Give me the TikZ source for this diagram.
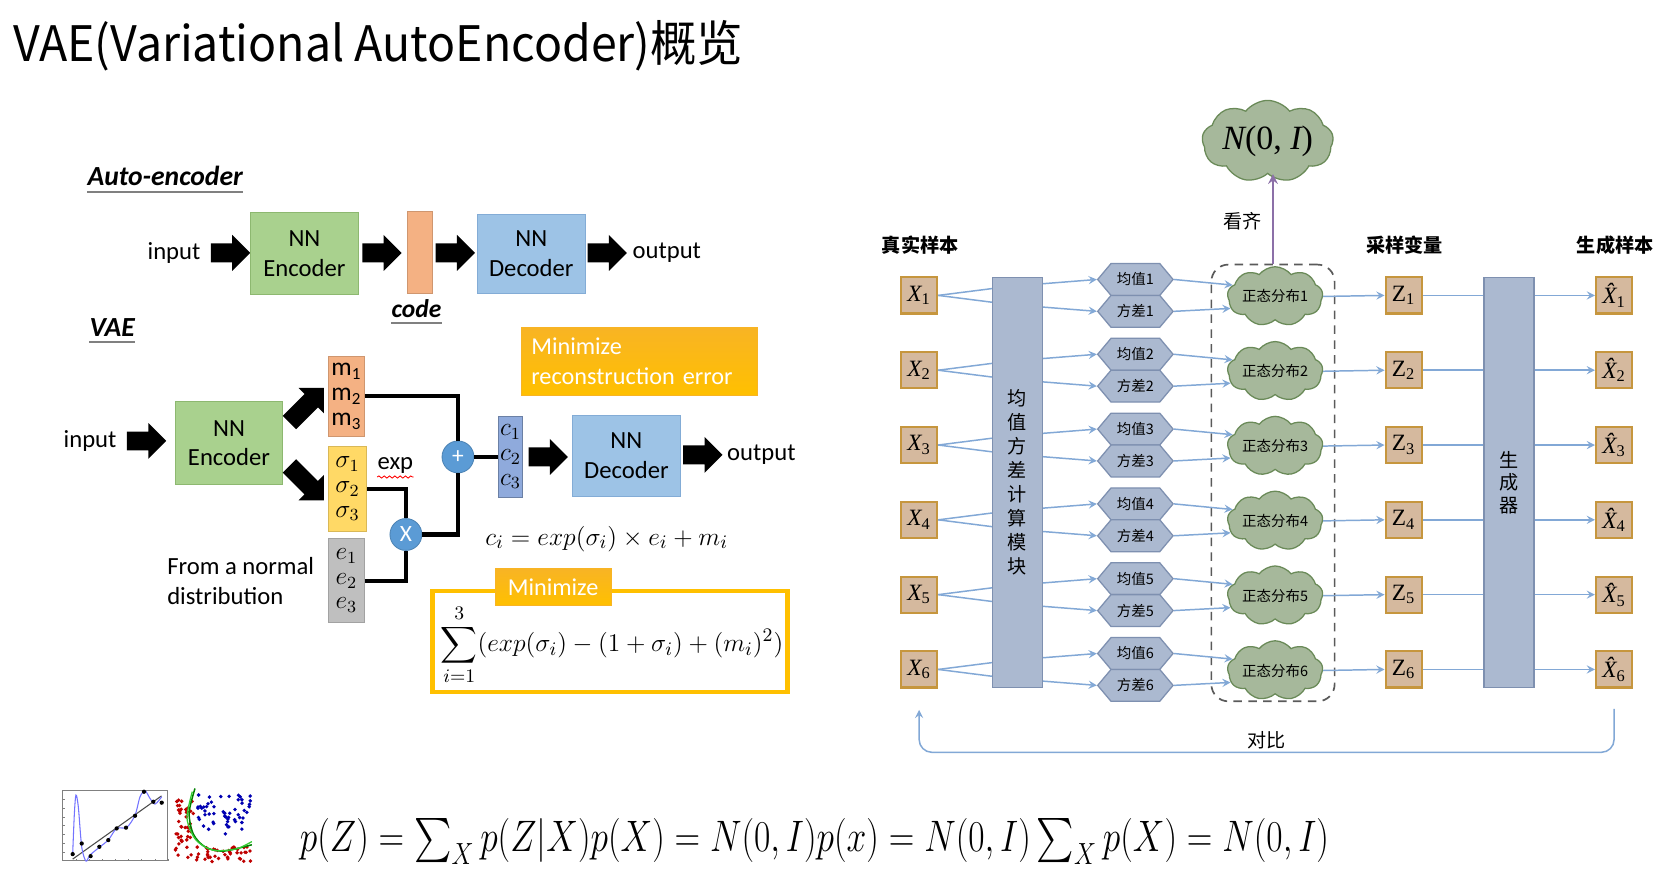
\documentclass[tikz,border=0pt]{standalone}
\usepackage[no-math]{fontspec}
\usepackage{amsmath}
\setmainfont{Carlito}
\newfontfamily\cjk{Noto Sans CJK SC}
\newfontfamily\tms{Liberation Serif}
\usetikzlibrary{shapes.arrows, shapes.symbols, arrows, decorations.pathmorphing}
\definecolor{encgreen}{HTML}{A9D18E}
\definecolor{encedge}{HTML}{8DB870}
\definecolor{decblue}{HTML}{9DC3E6}
\definecolor{decedge}{HTML}{83ACD6}
\definecolor{codeorange}{HTML}{F4B183}
\definecolor{sigyellow}{HTML}{FFD966}
\definecolor{egray}{HTML}{BFBFBF}
\definecolor{cblue}{HTML}{8FAADC}
\definecolor{opblue}{HTML}{5B9BD5}
\definecolor{gold}{HTML}{FFC000}
\definecolor{goldtop}{HTML}{F8B424}
\definecolor{tanfill}{HTML}{D5B99E}
\definecolor{tanedge}{HTML}{C6963E}
\definecolor{barfill}{HTML}{ABB9D0}
\definecolor{baredge}{HTML}{7E90B0}
\definecolor{cloudfill}{HTML}{A6B89B}
\definecolor{cloudedge}{HTML}{6A8A58}
\definecolor{lnblue}{HTML}{82A8D6}
\definecolor{purp}{HTML}{8C70A8}
\definecolor{dashgray}{HTML}{5A5A5A}
\tikzstyle{nnbox} = [rectangle, inner sep=0, align=center, minimum width=50.5pt, minimum height=38.5pt, font=\fontsize{11.6}{14}\selectfont]
\tikzstyle{bigarrow} = [single arrow, fill=black, inner xsep=0pt, inner ysep=4.25pt, minimum width=16.5pt, minimum height=18.5pt, single arrow head extend=4pt, single arrow head indent=0pt]
\tikzstyle{vec} = [rectangle, inner sep=0, align=center, minimum width=17pt, minimum height=37.5pt, font=\fontsize{12}{11.6}\selectfont]
\tikzstyle{op} = [circle, fill=opblue, draw=opblue!85!black, minimum size=15pt, inner sep=0, text=white, font=\fontsize{11}{12}\selectfont]
\tikzstyle{wire} = [line width=2pt]
\tikzstyle{txt} = [inner sep=0, font=\fontsize{11.6}{14}\selectfont]
\tikzstyle{head} = [inner sep=0, font=\bfseries\itshape\fontsize{13}{15}\selectfont]
\tikzstyle{goldbox} = [rectangle, top color=goldtop, bottom color=gold, draw=goldtop, text=white, inner sep=0, font=\fontsize{11.4}{14.5}\selectfont]
\tikzstyle{xbox} = [rectangle, fill=tanfill, draw=tanedge, line width=1pt, minimum size=17pt, inner sep=0, font=\tms\fontsize{11}{12}\selectfont]
\tikzstyle{bar} = [rectangle, fill=barfill, draw=baredge, line width=0.6pt, minimum width=23.5pt, minimum height=193pt, inner sep=0, align=center, font=\cjk\fontsize{9}{11.3}\selectfont]
\tikzstyle{hexa} = [signal, signal to=west and east, signal pointer angle=100, fill=barfill, draw=baredge, line width=0.6pt, minimum width=35.5pt, minimum height=15pt, inner sep=0.5pt, font=\cjk\fontsize{6.8}{8}\selectfont]
\tikzstyle{cloudn} = [cloud, cloud puffs=9, cloud puff arc=105, aspect=2, fill=cloudfill, draw=cloudedge, line width=0.6pt, minimum width=39pt, minimum height=17pt, inner sep=0, font=\cjk\fontsize{6.8}{8}\selectfont]
\tikzstyle{lbl} = [inner sep=0, font=\cjk\bfseries\fontsize{9}{11}\selectfont]
\tikzstyle{ln} = [line width=0.7pt, draw=lnblue]
\tikzstyle{arrow} = [ln, ->, >=stealth]
\begin{document}
\begin{tikzpicture}[x=0.5pt,y=-0.5pt]
\useasboundingbox[fill=white] (0,0) rectangle (1566,826);
\node[anchor=base west, inner sep=0, font=\cjk\fontsize{23}{28}\selectfont] (title) at (12,58) {\scalebox{0.95}[1]{VAE(Variational AutoEncoder)概览}};

% auto-encoder
\node[head, anchor=west] (ae) at (82,166) {Auto-encoder};
\draw[gray, line width=1.2pt] ([yshift=-2.5pt]ae.south west) -- ([yshift=-2.5pt]ae.south east);
\node[txt, anchor=east] (in1) at (189,238) {input};
\node[bigarrow] (a1) at (212.5,238) {};
\node[nnbox, fill=encgreen, draw=encedge] (enc1) at (286.5,238.5) {NN\\Encoder};
\node[bigarrow] (a2) at (355,238) {};
\node[rectangle, fill=codeorange, draw=codeorange!85!black, inner sep=0, minimum width=12pt, minimum height=38.5pt] (code) at (395,237.5) {};
\node[bigarrow] (a3) at (424,238) {};
\node[nnbox, fill=decblue, draw=decedge, minimum height=37pt] (dec1) at (500,239) {NN\\Decoder};
\node[bigarrow] (a4) at (567,238) {};
\node[txt, anchor=west] (out1) at (595,238) {output};
\node[head, font=\bfseries\itshape\fontsize{12}{14}\selectfont] (codel) at (392,290) {code};
\draw[gray, line width=1.2pt] ([yshift=-2.5pt]codel.south west) -- ([yshift=-2.5pt]codel.south east);

% vae
\node[head, anchor=west] (vae) at (84,308) {VAE};
\draw[gray, line width=1.2pt] ([yshift=-2.5pt]vae.south west) -- ([yshift=-2.5pt]vae.south east);
\node[txt, anchor=east] (in2) at (110,415) {input};
\node[bigarrow] (b1) at (133.5,415) {};
\node[nnbox, fill=encgreen, draw=encedge, minimum height=39pt] (enc2) at (215.5,417) {NN\\Encoder};
\node[bigarrow, rotate=45, minimum height=23pt] (b2) at (285.5,384.5) {};
\node[bigarrow, rotate=-45, minimum height=23pt] (b3) at (285.5,451.5) {};
\node[vec, fill=codeorange, draw=codeorange!85!black] (mv) at (326,373) {m\textsubscript{1}\\m\textsubscript{2}\\m\textsubscript{3}};
\node[vec, fill=sigyellow, draw=sigyellow!85!black, minimum width=18pt, minimum height=40pt] (sv) at (327,460) {$\sigma_1$\\$\sigma_2$\\$\sigma_3$};
\node[vec, fill=egray, draw=egray!85!black, minimum height=39.5pt] (ev) at (326,546.5) {$e_1$\\$e_2$\\$e_3$};
\node[txt, anchor=west] (expl) at (355,438) {exp};
\draw[red, line width=0.4pt, decorate, decoration={snake, amplitude=0.5pt, segment length=2.5pt}] ([yshift=-1.5pt]expl.south west) -- ([yshift=-1.5pt]expl.south east);
\node[txt, anchor=west, align=left] (normal) at (157,547) {From a normal\\distribution};
\node[op] (plus) at (431,430) {+};
\node[op] (times) at (382,503) {X};
\node[vec, fill=cblue, draw=cblue!75!black, minimum width=11.5pt, minimum height=38pt] (cv) at (480.5,430) {$c_1$\\$c_2$\\$c_3$};
\draw[wire] (mv.east) -| (plus.north);
\draw[wire] (sv.east) -| (times.north);
\draw[wire] (ev.east) -| (times.south);
\draw[wire] (times.east) -| (plus.south);
\draw[wire] (plus.east) -- (cv.west);
\node[bigarrow] (b4) at (511.5,430) {};
\node[nnbox, fill=decblue, draw=decedge] (dec2) at (589.5,429) {NN\\Decoder};
\node[bigarrow] (b5) at (657,428) {};
\node[txt, anchor=west] (out2) at (684,428) {output};
\node[goldbox, minimum width=111pt, minimum height=32pt, text width=102pt, align=left] (minrec) at (602,340) {Minimize\\reconstruction error};
\node[inner sep=0, font=\fontsize{12.5}{14}\selectfont] (cform) at (571,507) {$c_i = exp(\sigma_i)\times e_i + m_i$};
\node[draw=gold, line width=2pt, minimum width=167pt, minimum height=47.5pt] (klbox) at (574,603.5) {};
\node[inner sep=0, font=\fontsize{12.2}{14}\selectfont] (klform) at (576,607) {$\displaystyle\sum_{i=1}^{3}(exp(\sigma_i)-(1+\sigma_i)+(m_i)^2)$};
\node[goldbox, minimum width=54.5pt, minimum height=17.5pt] (mintab) at (520.5,552.5) {Minimize};

% right: vae pipeline
\node[lbl] (lx) at (866,231) {真实样本};
\node[lbl] (lz) at (1322,231) {采样变量};
\node[lbl] (lxh) at (1520,231) {生成样本};
\node[bar] (bar1) at (957.5,454) {均\\值\\方\\差\\计\\算\\模\\块};
\node[bar, font=\cjk\fontsize{9}{10.5}\selectfont] (bar2) at (1420,454) {生\\成\\器};
\node[draw=dashgray, line width=0.8pt, dash pattern=on 4pt off 3pt, rounded corners=8pt, minimum width=58pt, minimum height=205.5pt] (grp) at (1198,454.5) {};
\node[cloudn, minimum width=58pt, minimum height=27pt, font=\tms\fontsize{16}{18}\selectfont] (nrm) at (1193,133) {{\itshape N}(0, {\itshape I})};
\draw[->, >=stealth, line width=1pt, purp] (grp.north) -- (grp.north |- nrm.south);
\node[lbl, font=\cjk\fontsize{9}{11}\selectfont] (kq) at (1169,208) {看齐};
\foreach \i in {1,...,6}{
  \pgfmathsetmacro{\yy}{278+70.4*(\i-1)}
  \node[xbox] (x\i) at (865,\yy) {{\itshape X}\textsubscript{\i}};
  \node[hexa] (m\i) at (1068.5,\yy-15) {均值\i};
  \node[hexa] (v\i) at (1068.5,\yy+15) {方差\i};
  \node[cloudn] (c\i) at (1200,\yy+1) {正态分布\i};
  \node[xbox] (z\i) at (1321,\yy) {Z\textsubscript{\i}};
  \node[xbox] (xh\i) at (1519,\yy) {{\itshape\^{X}}\textsubscript{\i}};
  \draw[ln] (x\i.east) -- ([yshift=3.2pt]x\i.east -| bar1.west);
  \draw[ln] (x\i.east) -- ([yshift=-3.2pt]x\i.east -| bar1.west);
  \draw[arrow] ([yshift=-2pt]bar1.east |- m\i.west) -- (m\i.west);
  \draw[arrow] ([yshift=2pt]bar1.east |- v\i.west) -- (v\i.west);
  \draw[arrow] (m\i.east) -- (c\i.165);
  \draw[arrow] (v\i.east) -- (c\i.195);
  \draw[arrow] (c\i.east) -- (z\i.west);
  \draw[ln] (z\i.east) -- (z\i.east -| bar2.west);
  \draw[arrow] (z\i.east -| bar2.east) -- (xh\i.west);
}
\coordinate (fb) at (1200,708);
\draw[arrow, rounded corners=6pt] ([yshift=-9.5pt]xh6.south) -- (xh6.south |- fb) -- node[above, inner sep=1pt, font=\cjk\fontsize{9}{11}\selectfont, text=black] (db) {对比} (x6.south |- fb) -- ([yshift=-10pt]x6.south);

% bottom: plots and formula
\draw[gray, line width=0.4pt] (59,744) rectangle (158,810);
\foreach \t in {0,...,8}{
  \draw[gray, line width=0.3pt] (59+\t*12.4,810) -- ++(0,-2);
  \draw[gray, line width=0.3pt] (59,744+\t*8.25) -- ++(2,0);
}
\draw[black!70, line width=0.5pt] (68.4,808.5) -- (152,749);
\draw[blue!55, line width=0.5pt] plot[smooth] coordinates {(68.4,803.8) (70,765.5) (71.5,748.2) (73.7,759.2) (76.9,796.9) (80.9,810.4) (84.7,804.7) (94.1,796.9) (101.9,790.6) (109.8,779.6) (119.2,778.7) (127.1,767.1) (131.8,749.8) (136.5,744.2) (141.2,751.4) (145.9,756.7) (152.2,749.8)};
\foreach \a/\b in {68.4/803.8, 76.9/793.8, 85.3/805.7, 93.5/796.9, 101.9/790.6, 109.8/779.6, 118.6/778.9, 127.1/767.7, 135.5/745.1, 144.3/754.5, 152.2/755.4}
  \fill (\a,\b) circle (1pt);
\pgfmathsetseed{11}
\foreach \k in {1,...,45}{
  \pgfmathsetmacro{\sx}{165+18*rnd}
  \pgfmathsetmacro{\sy}{750+60*rnd}
  \fill[red!75!black] (\sx,\sy) circle (0.9pt);
}
\foreach \k in {1,...,40}{
  \pgfmathsetmacro{\sx}{185+52*rnd}
  \pgfmathsetmacro{\sy}{797+14*rnd}
  \fill[red!75!black] (\sx,\sy) circle (0.9pt);
}
\foreach \k in {1,...,55}{
  \pgfmathsetmacro{\sx}{186+50*rnd}
  \pgfmathsetmacro{\sy}{748+44*rnd*(1-0.6*rnd)}
  \fill[blue!70!black] (\sx,\sy) circle (0.9pt);
}
\draw[green!50!black, line width=0.7pt] plot[smooth] coordinates {(183.5,742) (178,765) (182,785) (193,797) (210,801) (237,795)};
\draw[green!60!gray, line width=0.6pt] plot[smooth] coordinates {(181,745) (176,770) (184,790) (200,800) (222,799) (237,792)};
\node[inner sep=0, font=\fontsize{20}{24}\selectfont] (pz) at (766.5,792) {\scalebox{0.805}[1]{$p(Z)=\sum_X p(Z|X)p(X)=N(0,I)p(x)=N(0,I)\sum_X p(X)=N(0,I)$}};
\end{tikzpicture}
\end{document}
